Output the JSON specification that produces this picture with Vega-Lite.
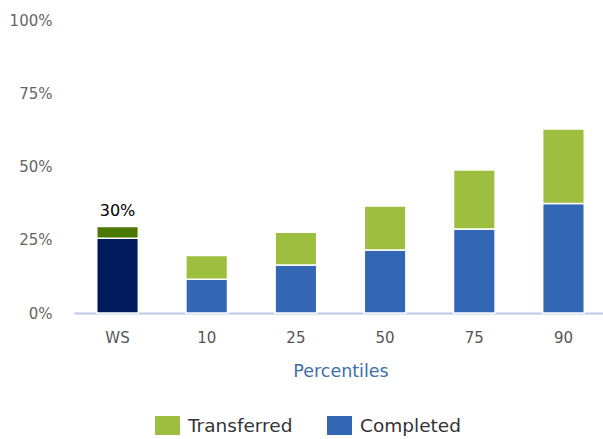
{
  "$schema": "https://vega.github.io/schema/vega-lite/v6.json",
  "width": 533,
  "height": 293,
  "autosize": "none",
  "padding": {"left": 74, "top": 20, "right": 0, "bottom": 126},
  "background": "white",
  "config": {"view": {"stroke": null}, "font": "DejaVu Sans"},
  "layer": [
    {
      "data": {"values": [
        {"cat": "WS", "series": "WS Completed", "ord": 1, "value": 0.255},
        {"cat": "WS", "series": "WS Transferred", "ord": 2, "value": 0.04},
        {"cat": "10", "series": "Completed", "ord": 1, "value": 0.115},
        {"cat": "10", "series": "Transferred", "ord": 2, "value": 0.081},
        {"cat": "25", "series": "Completed", "ord": 1, "value": 0.164},
        {"cat": "25", "series": "Transferred", "ord": 2, "value": 0.112},
        {"cat": "50", "series": "Completed", "ord": 1, "value": 0.215},
        {"cat": "50", "series": "Transferred", "ord": 2, "value": 0.15},
        {"cat": "75", "series": "Completed", "ord": 1, "value": 0.287},
        {"cat": "75", "series": "Transferred", "ord": 2, "value": 0.201},
        {"cat": "90", "series": "Completed", "ord": 1, "value": 0.374},
        {"cat": "90", "series": "Transferred", "ord": 2, "value": 0.254}
      ]},
      "mark": {"type": "bar", "stroke": "white", "strokeWidth": 1.5},
      "encoding": {
        "x": {
          "field": "cat", "type": "nominal", "sort": null,
          "scale": {"paddingInner": 0.534, "paddingOuter": 0.255},
          "axis": {
            "title": "Percentiles", "labelAngle": 0, "ticks": false,
            "domainColor": "#b8cce4", "domainWidth": 2,
            "labelColor": "#555555", "labelFontSize": 15, "labelPadding": 17,
            "titleColor": "#3d6ea8", "titleFontSize": 17.5, "titleFontWeight": "normal",
            "titlePadding": 17
          }
        },
        "y": {
          "field": "value", "type": "quantitative", "stack": "zero",
          "scale": {"domain": [0, 1]},
          "axis": {
            "title": null, "values": [0, 0.25, 0.5, 0.75, 1], "format": ".0%",
            "grid": false, "domain": false, "ticks": false,
            "labelColor": "#666666", "labelFontSize": 15, "labelPadding": 22
          }
        },
        "color": {
          "field": "series", "type": "nominal",
          "scale": {
            "domain": ["Transferred", "Completed", "WS Transferred", "WS Completed"],
            "range": ["#9dbe3f", "#3366b3", "#4a7800", "#001a5e"]
          },
          "legend": {
            "title": null, "values": ["Transferred", "Completed"],
            "orient": "none", "direction": "horizontal",
            "legendX": 81, "legendY": 393,
            "symbolType": "M-1,-0.76H1V0.76H-1Z", "symbolSize": 625,
            "symbolStrokeWidth": 0,
            "labelFontSize": 18.5, "labelColor": "#333333", "labelOffset": 8,
            "columnPadding": 34, "padding": 0
          }
        },
        "order": {"field": "ord", "type": "quantitative"}
      }
    },
    {
      "data": {"values": [{"cat": "WS", "total": 0.295, "label": "30%"}]},
      "mark": {"type": "text", "baseline": "bottom", "dy": -8, "fontSize": 16, "color": "#000000"},
      "encoding": {
        "x": {"field": "cat", "type": "nominal", "sort": null},
        "y": {"field": "total", "type": "quantitative"},
        "text": {"field": "label"}
      }
    }
  ]
}
